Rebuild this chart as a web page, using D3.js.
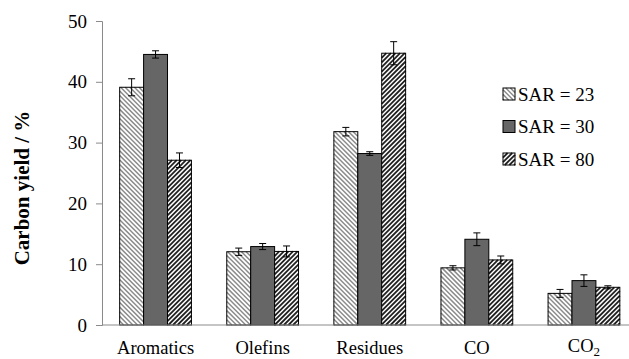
<!DOCTYPE html>
<html>
<head>
<meta charset="utf-8">
<script src="https://cdn.jsdelivr.net/npm/d3@7"></script>
</head>
<body style="margin:0">
<svg id="chart" width="629" height="359"></svg>
<script>
// data
const categories = ["Aromatics", "Olefins", "Residues", "CO", "CO2"];
const series = ["SAR = 23", "SAR = 30", "SAR = 80"];
const sar23 = [39.1, 12.05, 31.8, 9.4, 5.2];
const sar30 = [44.5, 12.9, 28.2, 14.1, 7.3];
const sar80 = [27.1, 12.1, 44.7, 10.7, 6.2];
const err23 = [1.4, 0.6, 0.7, 0.35, 0.65];
const err30 = [0.6, 0.5, 0.3, 1.05, 0.95];
const err80 = [1.2, 0.9, 1.9, 0.65, 0.25];
const yTicks = [0, 10, 20, 30, 40, 50];

const values = [sar23, sar30, sar80];
const errors = [err23, err30, err80];

const width = 629, height = 359;
const margin = {top: 21, left: 102};
const serif = "Liberation Serif";

const svg = d3.select("#chart");

// hatch styles: dir 1 = "\", dir -1 = "/", 0 = solid
const hatch = [
    {dir: 1, color: "#8c8c8c", sw: 1.5},
    {dir: 0, fill: "#666666"},
    {dir: -1, color: "#222", sw: 1.8}
];
const step = 4.6;

// diagonal lines clipped to a box, so no <pattern> is needed
function hatchPath(bx, by, bw, bh, dir) {
    let d = "";
    if (dir === 1) {
        for (let k = by - (bx + bw); k <= by + bh - bx; k += step) {
            let xa = Math.max(bx, by - k), xb = Math.min(bx + bw, by + bh - k);
            if (xb > xa) d += `M${xa},${xa + k}L${xb},${xb + k}`;
        }
    } else {
        for (let k = bx + by; k <= bx + bw + by + bh; k += step) {
            let xa = Math.max(bx, k - (by + bh)), xb = Math.min(bx + bw, k - by);
            if (xb > xa) d += `M${xa},${k - xa}L${xb},${k - xb}`;
        }
    }
    return d;
}

function drawBox(g, bx, by, bw, bh, si) {
    const h = hatch[si];
    g.append("rect")
        .attr("x", bx).attr("y", by)
        .attr("width", bw).attr("height", bh)
        .attr("fill", h.dir === 0 ? h.fill : "#fff");
    if (h.dir !== 0) {
        g.append("path")
            .attr("d", hatchPath(bx, by, bw, bh, h.dir))
            .attr("stroke", h.color)
            .attr("stroke-width", h.sw)
            .attr("fill", "none");
    }
    g.append("rect")
        .attr("x", bx).attr("y", by)
        .attr("width", bw).attr("height", bh)
        .attr("fill", "none")
        .attr("stroke", "#000")
        .attr("stroke-width", 1);
}

const y = d3.scaleLinear()
    .domain([0, 50])
    .range([325, margin.top]);

const x0 = d3.scaleBand()
    .domain(categories)
    .range([margin.left, 637.5])
    .paddingInner(0.33)
    .paddingOuter(0.165);

const x1 = d3.scaleBand()
    .domain(series)
    .range([0, x0.bandwidth()]);

// bars
categories.forEach((c, i) => {
    const g = svg.append("g").attr("class", "group");
    series.forEach((s, si) => {
        const bx = x0(c) + x1(s);
        const by = y(values[si][i]);
        drawBox(g, bx, by, x1.bandwidth(), y(0) - by, si);
    });
});

// error bars
categories.forEach((c, i) => {
    const g = svg.append("g").attr("class", "err");
    series.forEach((s, si) => {
        const cx = x0(c) + x1(s) + x1.bandwidth() / 2;
        const top = y(values[si][i] + errors[si][i]);
        const bot = y(values[si][i] - errors[si][i]);
        g.append("line")
            .attr("x1", cx).attr("x2", cx)
            .attr("y1", top).attr("y2", bot)
            .attr("stroke", "#000");
        [top, bot].forEach(v => {
            g.append("line")
                .attr("x1", cx - 3.5).attr("x2", cx + 3.5)
                .attr("y1", v).attr("y2", v)
                .attr("stroke", "#000");
        });
    });
});

// y axis
const yAxis = svg.append("g")
    .attr("transform", "translate(" + margin.left + ",0)")
    .call(d3.axisLeft(y).tickValues(yTicks).tickSize(6).tickPadding(9));
yAxis.attr("font-family", serif).attr("font-size", 19);
yAxis.select(".domain").attr("stroke", "#8a8a8a");
yAxis.selectAll(".tick line").attr("stroke", "#8a8a8a");
yAxis.selectAll(".tick text").attr("fill", "#000").attr("font-family", serif);

// x axis line
svg.append("line")
    .attr("x1", margin.left).attr("x2", width)
    .attr("y1", y(0)).attr("y2", y(0))
    .attr("stroke", "#8a8a8a");

// category labels
const labels = svg.selectAll(".cat")
    .data(categories)
    .enter().append("text")
    .attr("class", "cat")
    .attr("x", d => x0(d) + x0.bandwidth() / 2)
    .attr("y", d => d === "CO2" ? 352 : 354)
    .attr("text-anchor", "middle")
    .attr("font-family", serif)
    .attr("font-size", 18.5);
labels.each(function (d) {
    const lab = d3.select(this);
    if (d === "CO2") {
        lab.append("tspan").text("CO");
        lab.append("tspan").attr("dy", 4).attr("font-size", 13).text("2");
    } else {
        lab.text(d);
    }
});

// y title
svg.append("text")
    .attr("transform", "translate(29,188) rotate(-90)")
    .attr("text-anchor", "middle")
    .attr("font-family", serif)
    .attr("font-size", 21)
    .attr("font-weight", "bold")
    .text("Carbon yield / %");

// legend
series.forEach((s, i) => {
    const g = svg.append("g")
        .attr("class", "legend")
        .attr("transform", "translate(503," + (94 + i * 32.5) + ")");
    drawBox(g, 0, -6, 12, 12, i);
    g.append("text")
        .attr("x", 15)
        .attr("y", 0)
        .attr("dy", "0.35em")
        .attr("font-family", serif)
        .attr("font-size", 19)
        .text(s);
});
</script>
</body>
</html>
